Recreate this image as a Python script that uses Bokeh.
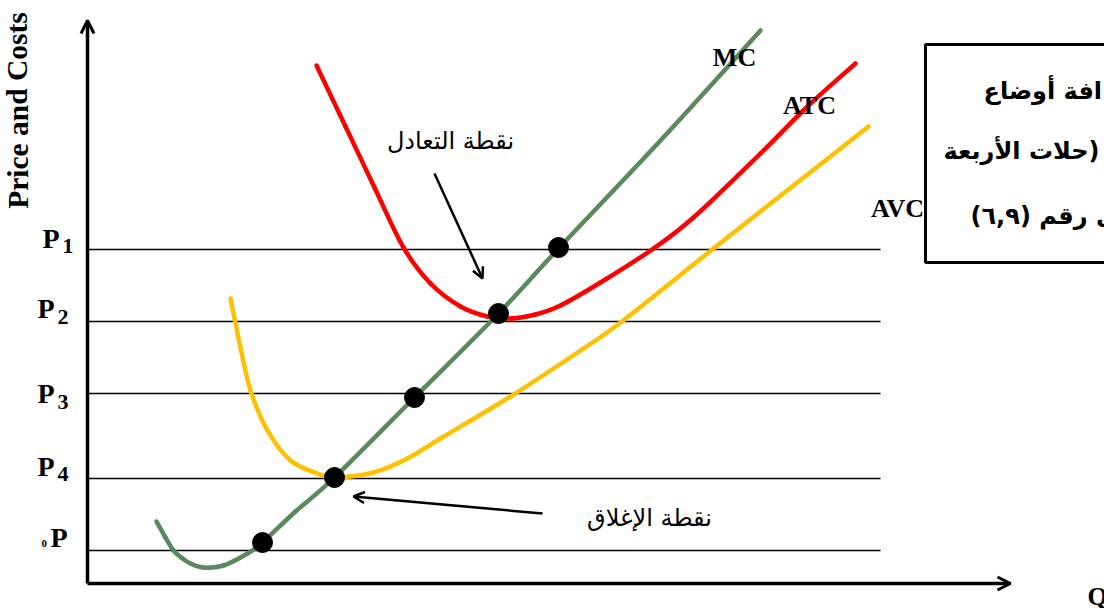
from bokeh.plotting import figure
from bokeh.models import Range1d, Arrow, OpenHead
from bokeh.core.properties import value
from bokeh.embed import file_html
from bokeh.resources import INLINE

# ---- data (arbitrary units: quantity Q, price/cost P) ----
mc_q = [69, 78, 86, 95, 103, 116, 136, 160, 175, 208, 247, 327, 411, 471, 573, 673]
mc_p = [62, 46, 33, 25, 20, 16, 18, 30, 41, 72, 106, 186, 270, 335, 443, 553]

atc_q = [229, 258, 287, 316, 343, 373, 400, 423, 448, 473, 513, 566, 606, 673, 720, 768]
atc_p = [518, 457, 396, 336, 300, 277, 267, 265, 269, 278, 301, 335, 366, 430, 477, 520]

avc_q = [143, 153, 163, 180, 203, 230, 247, 286, 320, 353, 423, 493, 533, 626, 706, 781]
avc_p = [285, 236, 193, 153, 123, 110, 106, 111, 125, 145, 187, 233, 261, 335, 398, 457]

price_levels = [334, 262, 190, 105, 33]
price_line_end = 793
price_main = ["P", "P", "P", "P", "P"]
price_subs = ["1", "2", "3", "4", "0"]

dot_q = [175, 247, 327, 411, 471]
dot_p = [41, 106, 186, 270, 336]

q_axis_max = 923
p_axis_max = 563

curve_labels = ["MC", "ATC", "AVC"]
curve_label_q = [647, 722, 810]
curve_label_p = [526, 478, 375]

y_title = "Price and Costs"
x_title = "Q"

eq_label = "نقطة التعادل"
shut_label = "نقطة الإغلاق"
box_lines = ["افة أوضاع", "حلات الأربعة)", "ى رقم (٦,٩)"]


def smooth_segments(xs, ys):
    """Catmull-Rom style cubic Bezier pieces through the given points (drawing only)."""
    n = len(xs)
    out = {k: [] for k in ("x0", "y0", "x1", "y1", "cx0", "cy0", "cx1", "cy1")}
    for i in range(n - 1):
        a = max(i - 1, 0)
        b = min(i + 2, n - 1)
        out["x0"].append(xs[i]); out["y0"].append(ys[i])
        out["x1"].append(xs[i + 1]); out["y1"].append(ys[i + 1])
        out["cx0"].append(xs[i] + (xs[i + 1] - xs[a]) / 6.0)
        out["cy0"].append(ys[i] + (ys[i + 1] - ys[a]) / 6.0)
        out["cx1"].append(xs[i + 1] - (xs[b] - xs[i]) / 6.0)
        out["cy1"].append(ys[i + 1] - (ys[b] - ys[i]) / 6.0)
    return out


# ---- figure ----
p = figure(width=1104, height=608, x_range=Range1d(-87, 1017), y_range=Range1d(-25, 583),
           output_backend="svg", toolbar_location=None,
           x_axis_location=None, y_axis_location=None, min_border=0)
p.grid.visible = False
p.outline_line_color = None
p.background_fill_color = "white"

serif = value("Liberation Serif")
arab = value("DejaVu Sans")

# price lines
p.segment(x0=[0] * len(price_levels), x1=[price_line_end] * len(price_levels),
          y0=price_levels, y1=price_levels, line_color="black", line_width=1.6)

# axes with arrows
p.add_layout(Arrow(end=OpenHead(size=13, line_width=3, line_color="black"),
                   x_start=0, y_start=0, x_end=0, y_end=p_axis_max,
                   line_width=3.5, line_color="black"))
p.add_layout(Arrow(end=OpenHead(size=13, line_width=3, line_color="black"),
                   x_start=0, y_start=0, x_end=q_axis_max, y_end=0,
                   line_width=3.5, line_color="black"))

# curves (smooth)
for qs, ps, col in [(avc_q, avc_p, "#FFC000"), (atc_q, atc_p, "#FF0000"), (mc_q, mc_p, "#5A8A5C")]:
    seg = smooth_segments(qs, ps)
    p.bezier(line_color=col, line_width=4.5, line_cap="round", **seg)

# dots
p.scatter(dot_q, dot_p, size=20, color="black")

# curve labels
p.text(curve_label_q, curve_label_p, text=curve_labels, text_font=serif, text_font_style="bold",
       text_font_size="26px", text_align="center", text_baseline="middle", text_color="black")

# price labels
p.text([-45, -50, -50, -50, -37], [345, 275, 190, 117, 46], text=price_main, text_font=serif,
       text_font_style="bold", text_font_size="28px", text_align="left",
       text_baseline="alphabetic")
p.text([-25, -30, -30, -30], [338, 267, 182, 110], text=price_subs[:4], text_font=serif,
       text_font_style="bold", text_font_size="22px", text_align="left",
       text_baseline="alphabetic")
p.text([-46], [40], text=[price_subs[4]], text_font=serif, text_font_style="bold",
       text_font_size="11px", text_align="left", text_baseline="alphabetic")

# axis titles
p.text([-70], [473], text=[y_title], angle=1.5708, text_font=serif, text_font_style="bold",
       text_font_size="29.5px", text_align="center", text_baseline="middle")
p.text([1000], [-13], text=[x_title], text_font=serif, text_font_style="bold",
       text_font_size="26px", text_align="left", text_baseline="alphabetic")

# annotations
p.text([363], [443], text=[eq_label], text_font=arab, text_font_size="24px",
       text_align="center", text_baseline="middle")
p.add_layout(Arrow(end=OpenHead(size=11, line_width=2.5), x_start=347, y_start=410,
                   x_end=395, y_end=305, line_width=2.5))
p.text([562], [66], text=[shut_label], text_font=arab, text_font_size="24px",
       text_align="center", text_baseline="middle")
p.add_layout(Arrow(end=OpenHead(size=11, line_width=2.5), x_start=455, y_start=70,
                   x_end=266, y_end=87, line_width=2.5))

# box
p.quad(left=[838], right=[1060], top=[539], bottom=[321], fill_color=None,
       line_color="black", line_width=3)
p.text([896, 856, 883], [493, 433, 368], text=box_lines, text_font=arab, text_font_style="bold",
       text_font_size="24px", text_align="left", text_baseline="middle")

open("out.html", "w").write(file_html(p, INLINE))
